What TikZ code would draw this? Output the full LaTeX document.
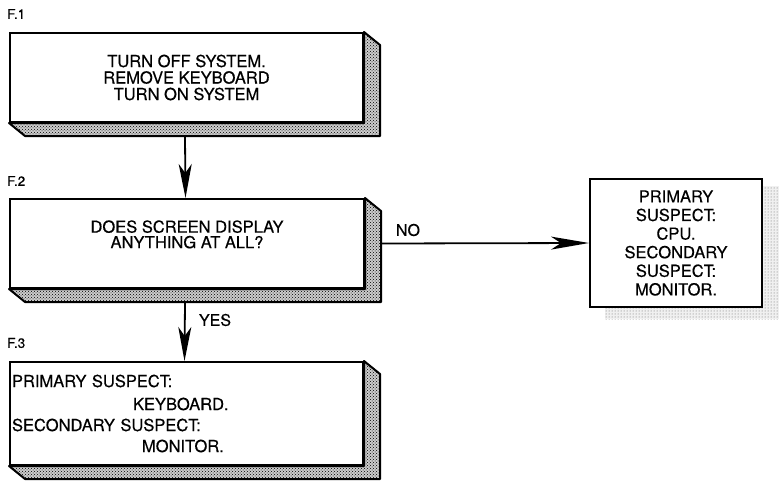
\documentclass[tikz,border=0pt]{standalone}
\usepackage{fontspec}
\setmainfont{TeX Gyre Heros}[FakeBold=0.4]
\usetikzlibrary{arrows.meta,patterns,backgrounds}
\begin{document}
\begin{tikzpicture}[x=1pt,y=-1pt,
  frontbox/.style={draw, line width=2pt, fill=white, inner sep=0pt, align=center},
  extr/.style={draw, line width=2pt, line join=round, preaction={fill=black!20}, pattern=crosshatch dots},
  arr/.style={line width=1.8pt, -{Stealth[length=34pt,width=13pt,inset=9pt]}},
  harr/.style={line width=1.8pt, -{Stealth[length=38pt,width=13pt,inset=10pt]}},
  lbl/.style={font=\fontsize{13.5}{14}\selectfont, anchor=west, inner sep=0pt},
  albl/.style={font=\fontsize{16}{16}\selectfont, inner sep=0pt}
]
\useasboundingbox (0,0) rectangle (782,482);

% labels
\node[lbl] (f1) at (7,14) {F.1};
\node[lbl] (f2) at (7,181) {F.2};
\node[lbl] (f3) at (7,343) {F.3};

% box 1
\node[frontbox, font=\fontsize{16.5}{16.5}\selectfont, minimum width=353pt, minimum height=89pt] (b1) at (186.5,77.5)
  {TURN OFF SYSTEM.\\REMOVE KEYBOARD\\TURN ON SYSTEM};
\draw[extr] (b1.north east) -- ([shift={(16,13)}]b1.north east) -- ([shift={(16,13)}]b1.south east)
  -- ([shift={(16,13)}]b1.south west) -- (b1.south west) -- (b1.south east) -- cycle;

% box 2
\node[frontbox, font=\fontsize{16.5}{15.5}\selectfont, minimum width=354pt, minimum height=89pt] (b2) at (187,243.5)
  {DOES SCREEN DISPLAY\\ANYTHING AT ALL?\\[3pt]};
\draw[extr] (b2.north east) -- ([shift={(16,13)}]b2.north east) -- ([shift={(16,13)}]b2.south east)
  -- ([shift={(16,13)}]b2.south west) -- (b2.south west) -- (b2.south east) -- cycle;

% box 3
\node[frontbox, font=\fontsize{16.5}{21}\selectfont, minimum width=353pt, minimum height=103pt,
      text width=349pt, align=left, inner xsep=2pt] (b3) at (186.5,413.5)
  {\vspace*{2pt}PRIMARY SUSPECT:\\\hspace*{121pt}KEYBOARD.\\SECONDARY SUSPECT:\\\hspace*{130pt}MONITOR.};
\draw[extr] (b3.north east) -- ([shift={(16,13)}]b3.north east) -- ([shift={(16,13)}]b3.south east)
  -- ([shift={(16,13)}]b3.south west) -- (b3.south west) -- (b3.south east) -- cycle;

% right box
\node[frontbox, font=\fontsize{16.5}{18.6}\selectfont, minimum width=172pt, minimum height=128pt] (rb) at (676,243)
  {PRIMARY\\SUSPECT:\\CPU.\\SECONDARY\\SUSPECT:\\MONITOR.};
\begin{scope}[on background layer]
  \path[preaction={fill=black!6}, pattern=dots, pattern color=black!60] ([shift={(16,11)}]rb.south west) rectangle ([shift={(16,8)}]rb.north east);
\end{scope}

% connectors
\draw[arr] ([shift={(-1.5,13)}]b1.south) -- ([xshift=-1.5pt]b2.north);
\draw[arr] ([shift={(-2,13)}]b2.south) -- ([xshift=-2pt]b3.north);
\draw[harr] ([xshift=16pt]b2.east) -- (rb.west);

\node[albl] (no) at (408,230) {NO};
\node[albl] (yes) at (215,320) {YES};
\end{tikzpicture}
\end{document}
